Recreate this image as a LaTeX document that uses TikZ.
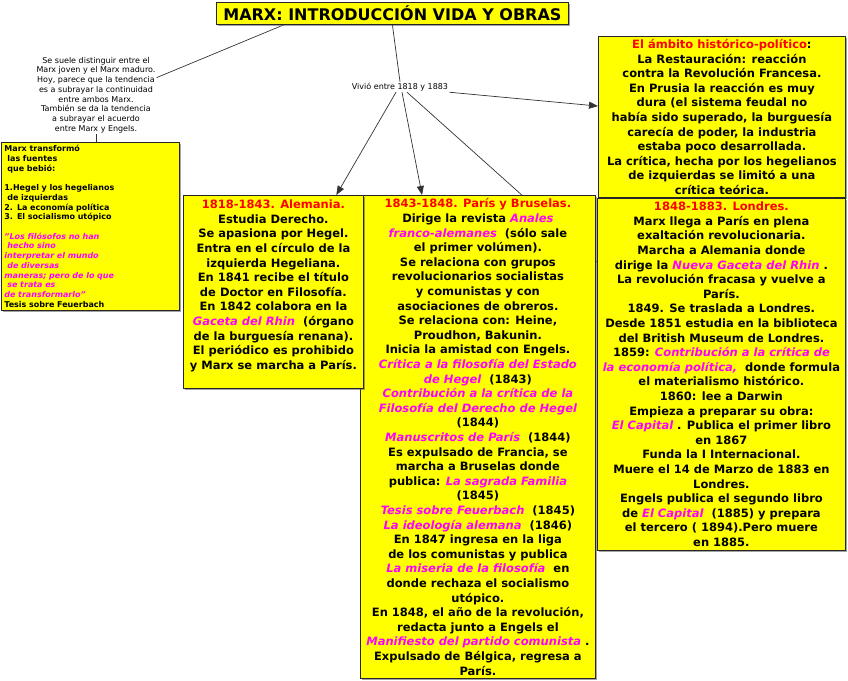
\documentclass[tikz,border=0pt]{standalone}
\usepackage{fontspec}
\setmainfont{DejaVu Sans}
\usetikzlibrary{arrows.meta,positioning,shadows,backgrounds}
\definecolor{MapYellow}{HTML}{FFFF00}
\definecolor{MapRed}{HTML}{FF0000}
\definecolor{MapMagenta}{HTML}{FF00FF}
\definecolor{MapLine}{HTML}{333333}
\newcommand{\obra}[1]{{\color{MapMagenta}\itshape #1}}
\newcommand{\etapa}[1]{{\color{MapRed}#1}}
\tikzset{
    % Base yellow box
    yellowbox/.style={
        draw=black!85,
        fill=MapYellow,
        line width=0.8pt,
        anchor=north west,
        align=center,
        inner sep=2pt,
        drop shadow={shadow xshift=1.5pt, shadow yshift=-1.5pt, fill=black!60, opacity=0.6},
        font=\bfseries\fontsize{11.5}{14.6}\selectfont
    },
    % Title box
    titlebox/.style={
        yellowbox,
        font=\bfseries\fontsize{16}{18}\selectfont
    },
    % Sources box (left aligned, small)
    sourcebox/.style={
        yellowbox,
        align=left,
        font=\bfseries\fontsize{8}{9.7}\selectfont
    },
    % Free comment text
    notetext/.style={
        align=center,
        inner sep=1pt,
        font=\fontsize{8}{9.7}\selectfont
    },
    % Label on the links
    linklabel/.style={
        fill=white,
        inner sep=1pt,
        font=\fontsize{8}{9.7}\selectfont
    },
    % Plain link
    myline/.style={
        draw=MapLine,
        line width=0.7pt
    },
    % Link with arrow
    myarrow/.style={
        myline,
        -{Triangle[length=9pt,width=7pt]}
    }
}
\begin{document}
\begin{tikzpicture}[x=1pt, y=-1pt]
    \useasboundingbox (0,0) rectangle (848,680);

    % Title
    \node[titlebox, minimum width=352pt, minimum height=22pt] (title) at (216,2) {MARX: INTRODUCCIÓN VIDA Y OBRAS};

    % Comment on the left
    \node[notetext] (note) at (96,95) {Se suele distinguir entre el\\
        Marx joven y el Marx maduro.\\
        Hoy, parece que la tendencia\\
        es a subrayar la continuidad\\
        entre ambos Marx.\\
        También se da la tendencia\\
        a subrayar el acuerdo\\
        entre Marx y Engels.};

    % Sources
    \node[sourcebox, text width=172pt, minimum width=178pt, minimum height=168pt] (fuentes) at (1,142) {Marx transformó\\
        \hspace*{3pt}las fuentes\\
        \hspace*{3pt}que bebió:\\[9.7pt]
        1.Hegel y los hegelianos\\
        \hspace*{3pt}de izquierdas\\
        2. La economía política\\
        3. El socialismo utópico\\[9.7pt]
        \obra{"Los filósofos no han}\\
        \obra{\hspace*{3pt}hecho sino}\\
        \obra{interpretar el mundo}\\
        \obra{\hspace*{3pt}de diversas}\\
        \obra{maneras; pero de lo que}\\
        \obra{\hspace*{3pt}se trata es}\\
        \obra{de transformarlo"}\\
        Tesis sobre Feuerbach};

    % Label
    \node[linklabel] (vivio) at (400,87) {Vivió entre 1818 y 1883};

    % Periods
    \node[yellowbox, minimum width=235pt, minimum height=483pt] (middle) at (360,195) {\etapa{1843-1848. París y Bruselas.}\\
        Dirige la revista \obra{Anales}\\
        \obra{franco-alemanes}\ \ (sólo sale\\
        el primer volúmen).\\
        Se relaciona con grupos\\
        revolucionarios socialistas\\
        y comunistas y con\\
        asociaciones de obreros.\\
        Se relaciona con: Heine,\\
        Proudhon, Bakunin.\\
        Inicia la amistad con Engels.\\
        \obra{Crítica a la filosofía del Estado}\\
        \obra{de Hegel}\ \ (1843)\\
        \obra{Contribución a la crítica de la}\\
        \obra{Filosofía del Derecho de Hegel}\\
        (1844)\\
        \obra{Manuscritos de París}\ \ (1844)\\
        Es expulsado de Francia, se\\
        marcha a Bruselas donde\\
        publica: \obra{La sagrada Familia}\\
        (1845)\\
        \obra{Tesis sobre Feuerbach}\ \ (1845)\\
        \obra{La ideología alemana}\ \ (1846)\\
        En 1847 ingresa en la liga\\
        de los comunistas y publica\\
        \obra{La miseria de la filosofía}\ \ en\\
        donde rechaza el socialismo\\
        utópico.\\
        En 1848, el año de la revolución,\\
        redacta junto a Engels el\\
        \obra{Manifiesto del partido comunista}\ .\\
        Expulsado de Bélgica, regresa a\\
        París.};

    \node[yellowbox, minimum width=180pt, minimum height=193pt] (alemania) at (183,195) {\etapa{1818-1843. Alemania.}\\
        Estudia Derecho.\\
        Se apasiona por Hegel.\\
        Entra en el círculo de la\\
        izquierda Hegeliana.\\
        En 1841 recibe el título\\
        de Doctor en Filosofía.\\
        En 1842 colabora en la\\
        \obra{Gaceta del Rhin}\ \ (órgano\\
        de la burguesía renana).\\
        El periódico es prohibido\\
        y Marx se marcha a París.\\
        \mbox{}};

    \node[yellowbox, minimum width=247pt, minimum height=161pt] (ambito) at (598,36) {\etapa{El ámbito histórico-político}:\\
        La Restauración: reacción\\
        contra la Revolución Francesa.\\
        En Prusia la reacción es muy\\
        dura (el sistema feudal no\\
        había sido superado, la burguesía\\
        carecía de poder, la industria\\
        estaba poco desarrollada.\\
        La crítica, hecha por los hegelianos\\
        de izquierdas se limitó a una\\
        crítica teórica.};

    \node[yellowbox, minimum width=248pt, minimum height=352pt] (londres) at (597,198) {\etapa{1848-1883. Londres.}\\
        Marx llega a París en plena\\
        exaltación revolucionaria.\\
        Marcha a Alemania donde\\
        dirige la \obra{Nueva Gaceta del Rhin}\ .\\
        La revolución fracasa y vuelve a\\
        París.\\
        1849. Se traslada a Londres.\\
        Desde 1851 estudia en la biblioteca\\
        del British Museum de Londres.\\
        1859: \obra{Contribución a la crítica de}\\
        \obra{la economía política,}\ \ donde formula\\
        el materialismo histórico.\\
        1860: lee a Darwin\\
        Empieza a preparar su obra:\\
        \obra{El Capital}\ . Publica el primer libro\\
        en 1867\\
        Funda la I Internacional.\\
        Muere el 14 de Marzo de 1883 en\\
        Londres.\\
        Engels publica el segundo libro\\
        de \obra{El Capital}\ \ (1885) y prepara\\
        el tercero ( 1894).Pero muere\\
        en 1885.};

    % Links
    \begin{scope}[on background layer]
        \draw[myline] (title.186) -- (note.16);
        \draw[myline] (note.south) -- (note.south |- fuentes.north);
        \draw[myline] (title.south) -- (vivio.north);
        \draw[myarrow] ([xshift=-4pt]vivio.south) -- (alemania.57);
        \draw[myarrow] ([xshift=2pt]vivio.south) -- (middle.103);
        \draw[myarrow] ([xshift=7pt]vivio.south) -- (londres.138);
        \draw[myarrow] (vivio.south east) -- (ambito.175);
    \end{scope}
\end{tikzpicture}
\end{document}
